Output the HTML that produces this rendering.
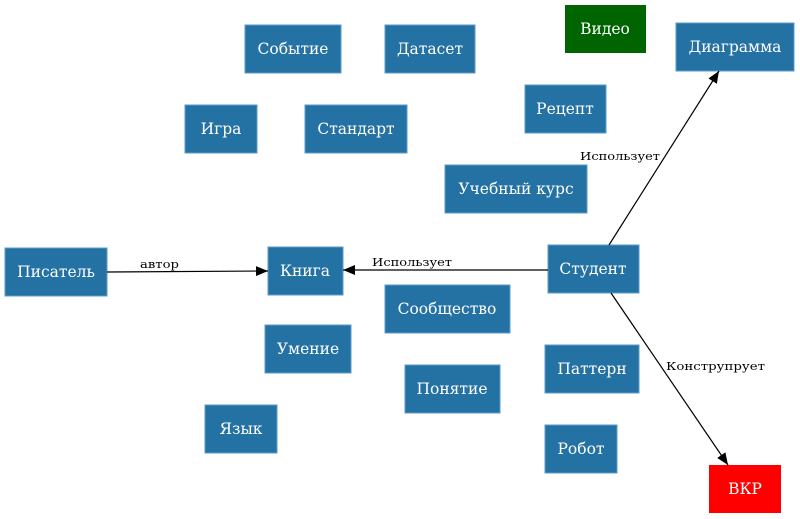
<!DOCTYPE html>
<html><head><meta charset="utf-8"><style>
html,body{margin:0;padding:0;background:#fff;width:800px;height:519px;overflow:hidden}
svg text{font-family:"DejaVu Serif","Liberation Serif",serif}
</style></head><body>
<svg width="800" height="519" viewBox="0 0 800 519" xmlns="http://www.w3.org/2000/svg">
<defs><marker id="a" markerWidth="12" markerHeight="10" refX="12" refY="5" orient="auto" markerUnits="userSpaceOnUse"><path d="M0,0 L12,5 L0,10 z" fill="#000"/></marker></defs>
<g fill="#2471a3" stroke="#5b9bc8" stroke-width="1">
<rect x="245" y="25" width="96" height="48"/>
<rect x="385" y="25" width="90" height="48"/>
<rect x="676" y="23" width="118" height="48"/>
<rect x="185" y="105" width="72" height="48"/>
<rect x="305" y="105" width="102" height="48"/>
<rect x="525" y="85" width="81" height="48"/>
<rect x="445" y="165" width="142" height="48"/>
<rect x="5" y="248" width="102" height="48"/>
<rect x="268" y="247" width="75" height="48"/>
<rect x="548" y="245" width="91" height="48"/>
<rect x="385" y="285" width="125" height="48"/>
<rect x="265" y="325" width="86" height="48"/>
<rect x="545" y="345" width="94" height="48"/>
<rect x="405" y="365" width="95" height="48"/>
<rect x="205" y="405" width="72" height="48"/>
<rect x="545" y="425" width="72" height="48"/>
</g>
<rect x="565" y="5" width="81" height="48" fill="#006400"/>
<rect x="709" y="465" width="72" height="48" fill="#ff0000"/>
<g fill="#fff" font-size="15.5" text-anchor="middle">
<text x="293" y="54">Событие</text>
<text x="430" y="54">Датасет</text>
<text x="605" y="34">Видео</text>
<text x="735" y="52">Диаграмма</text>
<text x="221" y="134">Игра</text>
<text x="356" y="134">Стандарт</text>
<text x="565" y="114">Рецепт</text>
<text x="516" y="194">Учебный курс</text>
<text x="56" y="277">Писатель</text>
<text x="305" y="276">Книга</text>
<text x="593" y="274">Студент</text>
<text x="447" y="314">Сообщество</text>
<text x="308" y="354">Умение</text>
<text x="592" y="374">Паттерн</text>
<text x="452" y="394">Понятие</text>
<text x="241" y="434">Язык</text>
<text x="581" y="454">Робот</text>
<text x="745" y="494">ВКР</text>
</g>
<g stroke="#000" stroke-width="1.2" fill="none">
<line x1="107" y1="272" x2="268" y2="271" marker-end="url(#a)"/>
<line x1="548" y1="270" x2="343" y2="270" marker-end="url(#a)"/>
<line x1="609" y1="245" x2="719" y2="71" marker-end="url(#a)"/>
<line x1="611" y1="293" x2="728" y2="465" marker-end="url(#a)"/>
</g>
<g fill="#000" font-size="11.5">
<text x="140" y="268" textLength="39" lengthAdjust="spacingAndGlyphs">автор</text>
<text x="372" y="266" textLength="80" lengthAdjust="spacingAndGlyphs">Использует</text>
<text x="580" y="160" textLength="80" lengthAdjust="spacingAndGlyphs">Использует</text>
<text x="666" y="370" textLength="99" lengthAdjust="spacingAndGlyphs">Конструпрует</text>
</g>
</svg>
</body></html>
